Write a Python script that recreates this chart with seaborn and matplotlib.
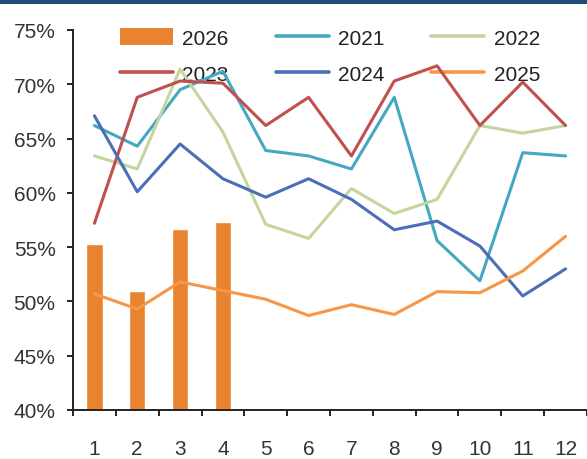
import numpy as np
import pandas as pd
import seaborn as sns
import matplotlib.pyplot as plt
from matplotlib.patches import Rectangle, Patch
from matplotlib.lines import Line2D
from matplotlib.ticker import FixedLocator

months = list(range(1, 13))
months_2026 = [1, 2, 3, 4]
vals_2026 = [55.3, 51.0, 56.7, 57.3]
vals_2021 = [66.2, 64.3, 69.5, 71.2, 63.9, 63.4, 62.2, 68.8, 55.6, 51.9, 63.7, 63.4]
vals_2022 = [63.4, 62.2, 71.4, 65.6, 57.1, 55.8, 60.4, 58.1, 59.4, 66.2, 65.5, 66.2]
vals_2023 = [57.2, 68.8, 70.3, 70.1, 66.2, 68.8, 63.4, 70.3, 71.7, 66.2, 70.2, 66.2]
vals_2024 = [67.1, 60.1, 64.5, 61.3, 59.6, 61.3, 59.4, 56.6, 57.4, 55.1, 50.5, 53.0]
vals_2025 = [50.7, 49.3, 51.8, 51.0, 50.2, 48.7, 49.7, 48.8, 50.9, 50.8, 52.8, 56.0]
y_ticks = [40, 45, 50, 55, 60, 65, 70, 75]

line_series = {"2021": vals_2021, "2022": vals_2022, "2023": vals_2023,
               "2024": vals_2024, "2025": vals_2025}
line_colors = {"2021": "#45a8c2", "2022": "#c4d69e", "2023": "#c0504d",
               "2024": "#4a6fb8", "2025": "#f79646"}
bar_color = "#e8832f"

sns.set_theme(style="white")
plt.rcParams["font.family"] = ["Liberation Sans", "DejaVu Sans"]

fig = plt.figure(figsize=(5.87, 4.60), dpi=100)
ax = fig.add_axes([73 / 587, 49 / 460, 514 / 587, 380 / 460])

df_bar = pd.DataFrame({"month": months_2026, "value": vals_2026})
sns.barplot(data=df_bar, x="month", y="value", native_scale=True, width=0.38,
            color=bar_color, saturation=1, ax=ax, zorder=2)

df_lines = pd.DataFrame([(m, year, v) for year, vals in line_series.items()
                         for m, v in zip(months, vals)], columns=["month", "year", "value"])
sns.lineplot(data=df_lines, x="month", y="value", hue="year", palette=line_colors,
             linewidth=2.2, ax=ax, zorder=3, legend=False)

ax.set_xlim(0.5, 12.5)
ax.set_ylim(40, 75)
ax.set_xlabel("")
ax.set_ylabel("")
ax.set_yticks(y_ticks)
ax.set_yticklabels([f"{t}%" for t in y_ticks])
ax.set_xticks(months)
ax.set_xticklabels([str(m) for m in months])
ax.xaxis.set_minor_locator(FixedLocator(np.arange(0.5, 13, 1)))

for s in ["top", "right"]:
    ax.spines[s].set_visible(False)
for s in ["left", "bottom"]:
    ax.spines[s].set_color("#222222")
    ax.spines[s].set_linewidth(1.4)

ax.tick_params(axis="y", which="major", left=True, length=4.5, width=1.4,
               color="#222222", pad=8, labelsize=15, labelcolor="#333333")
ax.tick_params(axis="x", which="major", bottom=False, length=0, pad=21,
               labelsize=15, labelcolor="#333333")
ax.tick_params(axis="x", which="minor", bottom=True, length=4.5, width=1.4,
               color="#222222")

# legend: column-wise filling gives rows 2026/2021/2022 and 2023/2024/2025
handles = {"2026": Patch(facecolor=bar_color, edgecolor="none")}
for year, c in line_colors.items():
    handles[year] = Line2D([], [], color=c, linewidth=2.6)
order = ["2026", "2023", "2021", "2024", "2022", "2025"]
leg = ax.legend([handles[k] for k in order], order, ncol=3, loc="upper left",
                bbox_to_anchor=(0.091, 1.006), frameon=False, fontsize=15,
                handlelength=2.55, handleheight=0.9, handletextpad=0.45,
                columnspacing=2.25, labelspacing=0.78, borderpad=0, borderaxespad=0)
for t in leg.get_texts():
    t.set_color("#222222")
leg.set_zorder(1)

fig.patches.append(Rectangle((0, 455 / 460), 1, 5 / 460, transform=fig.transFigure,
                             facecolor="#1f4a7c", edgecolor="none", zorder=10))

fig.savefig("out.png", dpi=100)
